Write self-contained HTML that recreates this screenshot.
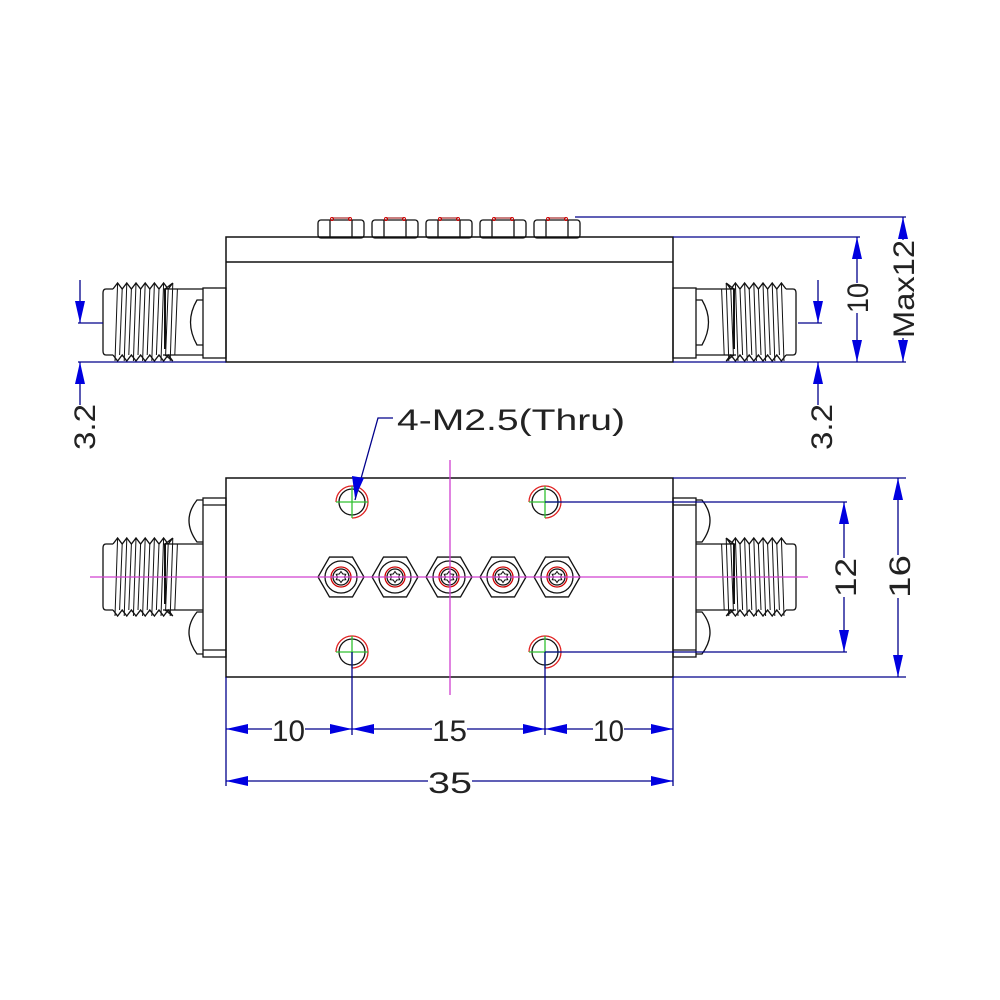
<!DOCTYPE html>
<html><head><meta charset="utf-8"><style>
html,body{margin:0;padding:0;background:#fff}
svg{display:block}
text{font-family:"Liberation Sans",sans-serif;font-size:30px;fill:#222;font-weight:normal}
</style></head><body>
<svg id="s" width="1000" height="1000" viewBox="0 0 1000 1000" xmlns="http://www.w3.org/2000/svg">
<g fill="none" stroke="#111" stroke-width="1.5">
<!-- top view body -->
<rect x="226" y="237" width="447" height="125"/>
<line x1="226" y1="262" x2="673" y2="262"/>
<!-- bottom view body -->
<rect x="226" y="478" width="447" height="199"/>
</g>
<g id="dyn"></g>
<!-- magenta center lines -->
<g stroke="#d040d0" stroke-width="1.3">
<line x1="90" y1="577" x2="808" y2="577"/>
<line x1="450" y1="460" x2="450" y2="695"/>
</g>
<g id="dims" stroke="#00008b" stroke-width="1.3" fill="none">
<!-- top view dims -->
<line x1="78" y1="362" x2="226" y2="362"/>
<line x1="673" y1="362" x2="906" y2="362"/>
<line x1="78" y1="323" x2="103" y2="323"/>
<line x1="80" y1="280" x2="80" y2="323"/>
<line x1="80" y1="362" x2="80" y2="405"/>
<line x1="798" y1="323" x2="822" y2="323"/>
<line x1="818" y1="280" x2="818" y2="323"/>
<line x1="818" y1="362" x2="818" y2="405"/>
<line x1="673" y1="237" x2="860" y2="237"/>
<line x1="857" y1="237" x2="857" y2="283"/>
<line x1="857" y1="313" x2="857" y2="362"/>
<line x1="575" y1="217" x2="906" y2="217"/>
<line x1="903" y1="217" x2="903" y2="240"/>
<line x1="903" y1="338" x2="903" y2="362"/>
<!-- bottom right dims -->
<line x1="545" y1="502" x2="847" y2="502"/>
<line x1="545" y1="652" x2="847" y2="652"/>
<line x1="844" y1="502" x2="844" y2="558"/>
<line x1="844" y1="597" x2="844" y2="652"/>
<line x1="673" y1="478" x2="906" y2="478"/>
<line x1="673" y1="677" x2="906" y2="677"/>
<line x1="898" y1="478" x2="898" y2="555"/>
<line x1="898" y1="598" x2="898" y2="677"/>
<!-- bottom dims -->
<line x1="226" y1="677" x2="226" y2="786"/>
<line x1="673" y1="677" x2="673" y2="786"/>
<line x1="352" y1="652" x2="352" y2="735"/>
<line x1="545" y1="652" x2="545" y2="735"/>
<line x1="226" y1="729" x2="272" y2="729"/><line x1="305" y1="729" x2="352" y2="729"/>
<line x1="352" y1="729" x2="432" y2="729"/><line x1="467" y1="729" x2="545" y2="729"/>
<line x1="545" y1="729" x2="593" y2="729"/><line x1="624" y1="729" x2="673" y2="729"/>
<line x1="226" y1="781" x2="428" y2="781"/><line x1="472" y1="781" x2="673" y2="781"/>
<!-- leader -->
<polyline points="355,500 378,418 393,418"/>
</g>
<g fill="#0000e0" id="arr"></g>
<!-- texts -->
<text x="397" y="430" textLength="228" lengthAdjust="spacingAndGlyphs">4-M2.5(Thru)</text>
<text x="272" y="741" textLength="33" lengthAdjust="spacingAndGlyphs">10</text>
<text x="432" y="741" textLength="35" lengthAdjust="spacingAndGlyphs">15</text>
<text x="593" y="741" textLength="31" lengthAdjust="spacingAndGlyphs">10</text>
<text x="428" y="793" textLength="44" lengthAdjust="spacingAndGlyphs">35</text>
<text transform="translate(95,450) rotate(-90)" textLength="46" lengthAdjust="spacingAndGlyphs">3.2</text>
<text transform="translate(832,450) rotate(-90)" textLength="46" lengthAdjust="spacingAndGlyphs">3.2</text>
<text transform="translate(868,313) rotate(-90)" textLength="30" lengthAdjust="spacingAndGlyphs">10</text>
<text transform="translate(914,338) rotate(-90)" textLength="98" lengthAdjust="spacingAndGlyphs">Max12</text>
<text transform="translate(856,597) rotate(-90)" textLength="39" lengthAdjust="spacingAndGlyphs">12</text>
<text transform="translate(910,598) rotate(-90)" textLength="43" lengthAdjust="spacingAndGlyphs">16</text>
</svg>
<script>
var NS="http://www.w3.org/2000/svg",g=document.getElementById('dyn'),A=document.getElementById('arr');
function el(t,a,p){var e=document.createElementNS(NS,t);for(var k in a)e.setAttribute(k,a[k]);(p||g).appendChild(e);return e;}
var S={fill:"none",stroke:"#111","stroke-width":1.3};
function st(o){var r={};for(var k in S)r[k]=S[k];for(k in o)r[k]=o[k];return r;}
// threaded connector: dir=1 left (thread at left), cy center, x0 outer end
function connector(cy,side){
 var m=function(x){return side<0?899-x:x;};
 var top=cy-33,bot=cy+33;
 // end cap
 el('path',st({d:"M"+m(113)+" "+top+" L"+m(106)+" "+top+" Q"+m(103)+" "+top+" "+m(103)+" "+(top+4)+" L"+m(103)+" "+(bot-4)+" Q"+m(103)+" "+bot+" "+m(106)+" "+bot+" L"+m(113)+" "+bot}));
 // body cylinder
 el('line',st({x1:m(163),y1:top,x2:m(203),y2:top}));
 el('line',st({x1:m(163),y1:bot,x2:m(203),y2:bot}));
 // zigzag threads
 var pt="",pb="";
 for(var i=0;i<7;i++){var x=113+i*9.2;pt+=m(x)+","+(top)+" "+m(x+4.6)+","+(top-6)+" ";pb+=m(x)+","+(bot)+" "+m(x+4.6)+","+(bot+6)+" ";}
 el('polyline',st({points:pt+m(177-12)+","+top}));
 el('polyline',st({points:pb+m(177-12)+","+bot}));
 for(var i=0;i<7;i++){var x=113+i*9.2;
  el('line',st({x1:m(x+4.6),y1:top-6,x2:m(x+2),y2:bot+6,"stroke-width":1}));
  el('line',st({x1:m(x+9.2),y1:top,x2:m(x+6.6),y2:bot,"stroke-width":1}));}
 el('line',st({x1:m(165),y1:top,x2:m(165),y2:top+60,"stroke-width":2}));
}
// top view connectors
connector(322,1);connector(322,-1);
function flangeTop(side){var m=function(x){return side<0?899-x:x;};
 el('rect',st({x:Math.min(m(203),m(226)),y:288,width:23,height:70}));
 el('path',st({d:"M"+m(203)+" 300 L"+m(197)+" 300 Q"+m(184)+" 322 "+m(197)+" 345 L"+m(203)+" 345"}));}
flangeTop(1);flangeTop(-1);
// bottom view connectors
connector(577,1);connector(577,-1);
function flangeBot(side){var m=function(x){return side<0?899-x:x;};
 el('rect',st({x:Math.min(m(203),m(226)),y:498,width:23,height:159}));
 el('line',st({x1:m(203),y1:505,x2:m(226),y2:505}));
 el('line',st({x1:m(203),y1:650,x2:m(226),y2:650}));
 el('path',st({d:"M"+m(203)+" 500 L"+m(197)+" 500 Q"+m(181)+" 520 "+m(197)+" 542 L"+m(203)+" 542"}));
 el('path',st({d:"M"+m(203)+" 612 L"+m(197)+" 612 Q"+m(181)+" 632 "+m(197)+" 654 L"+m(203)+" 654"}));}
flangeBot(1);flangeBot(-1);
// top nuts
[341,395,449,503,557].forEach(function(c){
 el('rect',st({x:c-23,y:220,width:46,height:18,rx:3}));
 el('line',st({x1:c-11,y1:220,x2:c-11,y2:238}));el('line',st({x1:c+11,y1:220,x2:c+11,y2:238}));
 el('line',st({x1:c-9,y1:218,x2:c+9,y2:218,stroke:"#a33"}));
 el('circle',{cx:c-9,cy:219,r:1.5,fill:"none",stroke:"#c00"});el('circle',{cx:c+9,cy:219,r:1.5,fill:"none",stroke:"#c00"});
 // bottom hex screws
 var h="";for(var k=0;k<6;k++){var a=Math.PI/3*k;h+=(c+23*Math.cos(a))+","+(577+20*Math.sin(a)*1.15)+" ";}
 el('polygon',st({points:h}));
 el('circle',st({cx:c,cy:577,r:16}));
 el('circle',st({cx:c,cy:577,r:10,stroke:"#c00"}));
 el('circle',st({cx:c,cy:577,r:8}));
 var sp="";for(var k=0;k<12;k++){var a=Math.PI/6*k-Math.PI/2,r=k%2?3.5:5.5;sp+=(c+r*Math.cos(a))+","+(577+r*Math.sin(a))+" ";}
 el('polygon',st({points:sp,"stroke-width":1}));
});
// holes
[[352,502],[545,502],[352,652],[545,652]].forEach(function(p){
 el('path',{d:"M"+(p[0]-16)+" "+p[1]+" A16 16 0 1 1 "+p[0]+" "+(p[1]+16),fill:"none",stroke:"#e02020","stroke-width":1.3});
 el('circle',st({cx:p[0],cy:p[1],r:13}));
 el('line',{x1:p[0]-16,y1:p[1],x2:p[0]+16,y2:p[1],stroke:"#30c030","stroke-width":1.3});
 el('line',{x1:p[0],y1:p[1]-16,x2:p[0],y2:p[1]+16,stroke:"#30c030","stroke-width":1.3});
});
// arrowheads
function arr(x,y,dir){var L=22,W=5,p;
 if(dir=='d')p=[x,y,x-W,y-L,x+W,y-L];else if(dir=='u')p=[x,y,x-W,y+L,x+W,y+L];
 else if(dir=='l')p=[x,y,x+L,y-W,x+L,y+W];else p=[x,y,x-L,y-W,x-L,y+W];
 el('polygon',{points:p.join(' '),fill:"#0000e0"},A);}
arr(80,323,'d');arr(80,362,'u');arr(818,323,'d');arr(818,362,'u');
arr(857,237,'u');arr(857,362,'d');arr(903,217,'u');arr(903,362,'d');
arr(844,502,'u');arr(844,652,'d');arr(898,478,'u');arr(898,677,'d');
arr(226,729,'l');arr(352,729,'r');arr(352,729,'l');arr(545,729,'r');arr(545,729,'l');arr(673,729,'r');
arr(226,781,'l');arr(673,781,'r');
el('polygon',{points:"355,498 352,476 364,478",fill:"#0000e0"},A);
</script>
</body></html>
